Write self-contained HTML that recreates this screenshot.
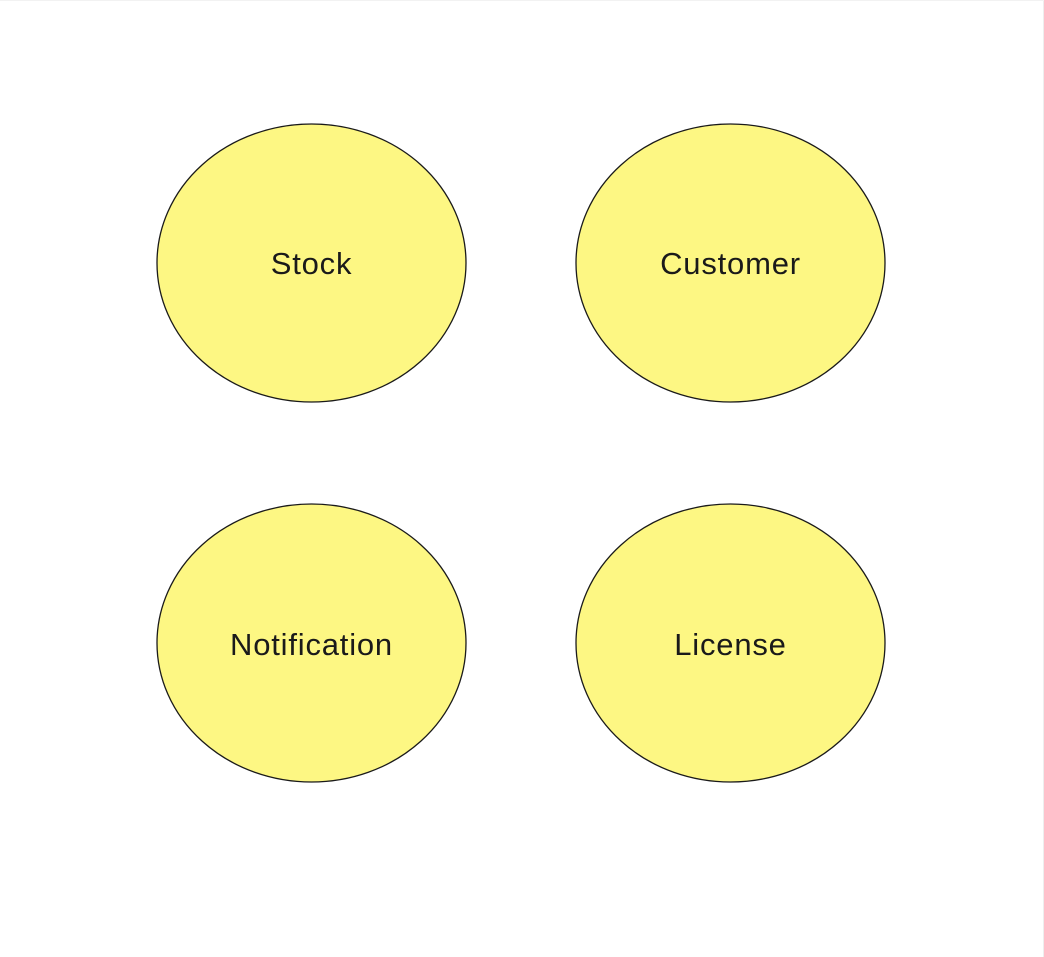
<!DOCTYPE html>
<html><head><meta charset="utf-8"><style>
html,body{margin:0;padding:0;background:#fff;}
body{width:1044px;height:957px;overflow:hidden;position:relative;}
svg{position:absolute;left:0;top:0;}
text{font-family:"Liberation Sans",sans-serif;font-size:31px;fill:#1a1a1a;letter-spacing:0.8px;}
</style></head><body>
<svg width="1044" height="957" viewBox="0 0 1044 957">
<line x1="1043.5" y1="0" x2="1043.5" y2="957" stroke="#eee" stroke-width="1"/>
<line x1="0" y1="0.5" x2="1044" y2="0.5" stroke="#f2f2f2" stroke-width="1"/>
<g fill="#fdf783" stroke="#1a1a1a" stroke-width="1.3">
<ellipse cx="311.5" cy="263" rx="154.5" ry="139"/>
<ellipse cx="730.5" cy="263" rx="154.5" ry="139"/>
<ellipse cx="311.5" cy="643" rx="154.5" ry="139"/>
<ellipse cx="730.5" cy="643" rx="154.5" ry="139"/>
</g>
<g text-anchor="middle">
<text x="311.5" y="274">Stock</text>
<text x="730.5" y="274">Customer</text>
<text x="311.5" y="655">Notification</text>
<text x="730.5" y="655">License</text>
</g>
</svg>
</body></html>
